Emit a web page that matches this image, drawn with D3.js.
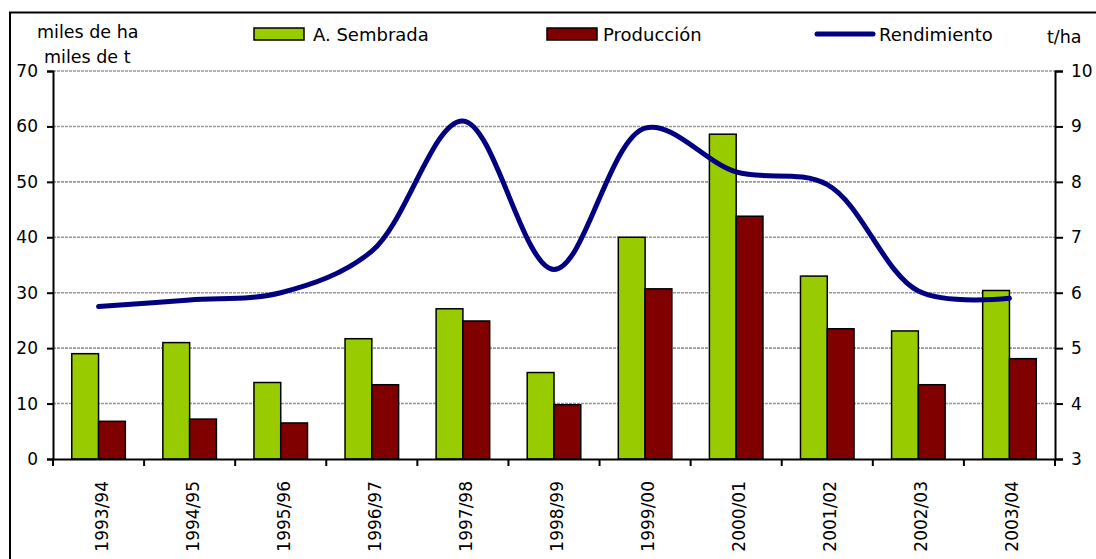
<!DOCTYPE html>
<html>
<head>
<meta charset="utf-8">
<script src="https://cdn.jsdelivr.net/npm/d3@7"></script>
<style>
  body { margin: 0; background: #fff; }
  svg { display: block; font-family: "DejaVu Sans", Verdana, sans-serif; }
</style>
</head>
<body>
<script>
// Chart data
let campaigns = ["1993/94", "1994/95", "1995/96", "1996/97", "1997/98", "1998/99",
                 "1999/00", "2000/01", "2001/02", "2002/03", "2003/04"];
let areaSown = [19.0, 21.0, 13.8, 21.7, 27.1, 15.6, 40.0, 58.6, 33.0, 23.1, 30.4];   // miles de ha
let production = [6.8, 7.2, 6.5, 13.4, 24.9, 9.8, 30.7, 43.8, 23.5, 13.4, 18.1];    // miles de t
let yieldRate = [5.75, 5.87, 6.0, 6.75, 9.1, 6.42, 8.97, 8.18, 7.95, 6.03, 5.9];     // t/ha
let leftTicks = [0, 10, 20, 30, 40, 50, 60, 70];
let rightTicks = [3, 4, 5, 6, 7, 8, 9, 10];

let svgWidth = 1096;
let svgHeight = 559;

let chartMargin = { top: 71, right: 41, bottom: 100, left: 53 };
let chartWidth = svgWidth - chartMargin.left - chartMargin.right;
let chartHeight = svgHeight - chartMargin.top - chartMargin.bottom;

let svg = d3.select("body")
  .append("svg")
  .attr("width", svgWidth)
  .attr("height", svgHeight);

// outer frame (right/bottom edges fall outside the picture)
svg.append("rect")
  .attr("x", 10)
  .attr("y", 12.5)
  .attr("width", 1200)
  .attr("height", 700)
  .attr("fill", "none")
  .attr("stroke", "#000")
  .attr("stroke-width", 2);

let chartGroup = svg.append("g")
  .attr("transform", `translate(${chartMargin.left}, ${chartMargin.top})`);

// scales
let xScale = d3.scaleBand()
  .domain(campaigns)
  .range([0, chartWidth])
  .padding(0);

let bw = xScale.bandwidth();
let series = ["area", "prod"];
let xInner = d3.scaleBand()
  .domain(series)
  .range([bw * 0.206, bw * 0.794]);

let yLeft = d3.scaleLinear([0, 70], [chartHeight, 0]);
let yRight = d3.scaleLinear([3, 10], [chartHeight, 0]);

// gridlines
chartGroup.append("g")
  .selectAll("line")
  .data(leftTicks.slice(1))
  .enter()
  .append("line")
  .attr("x1", 0)
  .attr("x2", chartWidth)
  .attr("y1", d => yLeft(d))
  .attr("y2", d => yLeft(d))
  .attr("stroke", "#999")
  .attr("stroke-width", 1.6)
  .attr("stroke-dasharray", "3,1");

// bars
let barData = campaigns.map((c, i) => [
  { cat: c, key: "area", value: areaSown[i] },
  { cat: c, key: "prod", value: production[i] }
]).flat();

let colors = { area: "#99CC00", prod: "#800000" };

chartGroup.selectAll(".bar")
  .data(barData)
  .enter()
  .append("rect")
  .classed("bar", true)
  .attr("x", d => xScale(d.cat) + xInner(d.key))
  .attr("width", xInner.bandwidth())
  .attr("y", d => yLeft(d.value))
  .attr("height", d => chartHeight - yLeft(d.value))
  .attr("fill", d => colors[d.key])
  .attr("stroke", "#000")
  .attr("stroke-width", 1.5);

// yield line (smoothed like the spreadsheet)
let line = d3.line()
  .x((d, i) => xScale(campaigns[i]) + bw / 2)
  .y(d => yRight(d))
  .curve(d3.curveCatmullRom.alpha(0.5));

chartGroup.append("path")
  .datum(yieldRate)
  .attr("d", line)
  .attr("fill", "none")
  .attr("stroke", "#000080")
  .attr("stroke-width", 5)
  .attr("stroke-linecap", "round");

// axes
let leftAxis = d3.axisLeft(yLeft).tickValues(leftTicks).tickSizeOuter(0).tickSize(6).tickPadding(9);
let rightAxis = d3.axisRight(yRight).tickValues(rightTicks).tickFormat(d3.format("d"))
  .tickSizeOuter(0).tickSize(8).tickPadding(8);
let bottomAxis = d3.axisBottom(xScale).tickSize(0).tickFormat("");

let gl = chartGroup.append("g").call(leftAxis);
let gr = chartGroup.append("g").attr("transform", `translate(${chartWidth}, 0)`).call(rightAxis);
let gb = chartGroup.append("g").attr("transform", `translate(0, ${chartHeight})`).call(bottomAxis);

[gl, gr, gb].forEach(g => {
  g.select(".domain").attr("stroke", "#000").attr("stroke-width", 2);
  g.selectAll(".tick line").attr("stroke", "#000").attr("stroke-width", 2);
  g.selectAll("text").attr("fill", "#000").style("font-size", "17px")
    .style("font-family", "'DejaVu Sans', sans-serif");
});

// category separators below the axis
chartGroup.append("g")
  .selectAll("line")
  .data(campaigns.concat(["end"]))
  .enter()
  .append("line")
  .attr("x1", (d, i) => i * bw)
  .attr("x2", (d, i) => i * bw)
  .attr("y1", chartHeight)
  .attr("y2", chartHeight + 7)
  .attr("stroke", "#000")
  .attr("stroke-width", 2);

// rotated category labels
chartGroup.append("g")
  .selectAll("text")
  .data(campaigns)
  .enter()
  .append("text")
  .attr("transform", d => `translate(${xScale(d) + bw / 2 + 9}, ${chartHeight + 22}) rotate(-90)`)
  .attr("text-anchor", "end")
  .style("font-size", "17px")
  .text(d => d);

// unit labels
svg.append("text").attr("x", 37).attr("y", 38).style("font-size", "17.5px").text("miles de ha");
svg.append("text").attr("x", 44).attr("y", 63).style("font-size", "17.5px").text("miles de t");
svg.append("text").attr("x", 1047).attr("y", 43).style("font-size", "17.5px").text("t/ha");

// legend
let legend = svg.append("g");
let legendItems = [
  { label: "A. Sembrada", key: "area", x: 254, tx: 313 },
  { label: "Producción", key: "prod", x: 547, tx: 603 },
  { label: "Rendimiento", key: "line", x: 817, tx: 879 }
];
legendItems.forEach(d => {
  if (d.key === "line") {
    legend.append("line")
      .attr("x1", d.x).attr("x2", d.x + 56)
      .attr("y1", 34).attr("y2", 34)
      .attr("stroke", "#000080").attr("stroke-width", 5)
      .attr("stroke-linecap", "round");
  } else {
    legend.append("rect")
      .attr("x", d.x).attr("y", 28)
      .attr("width", 50).attr("height", 12)
      .attr("fill", colors[d.key])
      .attr("stroke", "#000").attr("stroke-width", 1.5);
  }
  legend.append("text")
    .attr("x", d.tx).attr("y", 41)
    .style("font-size", "18px")
    .text(d.label);
});
</script>
</body>
</html>
